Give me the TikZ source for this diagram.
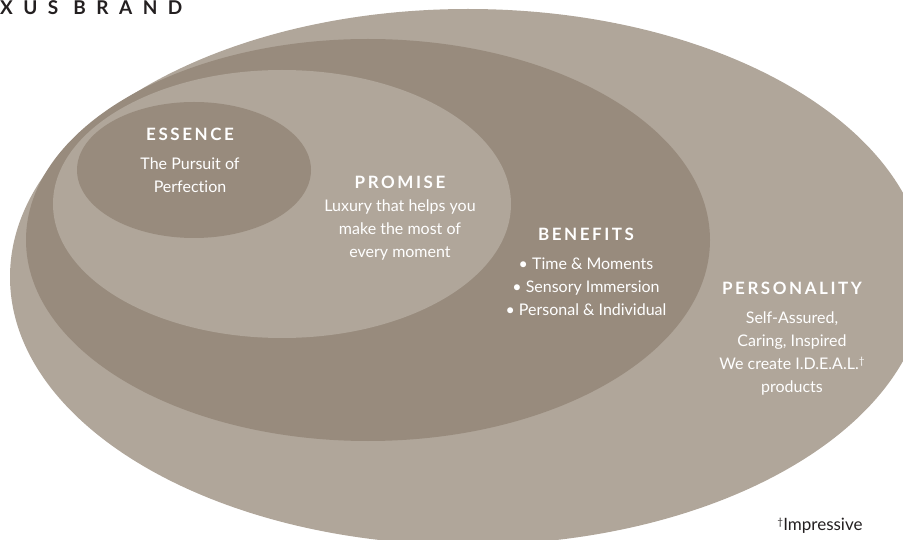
\documentclass[tikz,border=0pt]{standalone}
\usepackage{fontspec}
\setmainfont{Lato}[Ligatures=NoCommon]
\newfontfamily\headfont{Lato}[LetterSpace=15,Ligatures=NoCommon]
\newfontfamily\titlefont{Lato}[LetterSpace=55]
\usetikzlibrary{shapes.geometric,positioning}
\definecolor{sand}{RGB}{176,166,154}
\definecolor{taupe}{RGB}{152,139,125}
\definecolor{ink}{RGB}{35,31,32}
\newcommand{\dagr}{{\fontsize{10}{10}\selectfont\raisebox{5pt}{†}}}

\begin{document}
\begin{tikzpicture}[x=1pt, y=1pt,
    ring/.style={ellipse, inner sep=0pt, draw=none},
    head/.style={font=\headfont\bfseries\fontsize{17}{20}\selectfont,
        text=white, inner sep=0pt},
    body/.style={font=\fontsize{16}{23}\selectfont, text=white,
        align=center, inner sep=0pt}]

    \clip (0,0) rectangle (903,-540);

    % the rings, outer one first
    \node[ring, fill=sand, minimum width=916pt, minimum height=536pt] (Pers) at (468,-277) {};
    \node[ring, fill=taupe, minimum width=684pt, minimum height=402pt] (Ben) at (368,-240) {};
    \node[ring, fill=sand, minimum width=458pt, minimum height=268pt] (Prom) at (282,-204) {};
    \node[ring, fill=taupe, minimum width=234pt, minimum height=136pt] (Ess) at (194,-170) {};

    % labels
    \node[head] (EssT) at (190,-134) {ESSENCE};
    \node[body, below=17pt of EssT] (EssB) {The Pursuit of\\Perfection};

    \node[head] (PromT) at (400,-182) {PROMISE};
    \node[body, below=11pt of PromT] (PromB)
        {Luxury that helps you\\make the most of\\every moment};

    \node[head] (BenT) at (586,-234) {BENEFITS};
    \node[body, below=17pt of BenT] (BenB)
        {• Time \& Moments\\• Sensory Immersion\\• Personal \& Individual};

    \node[head] (PersT) at (792,-288) {PERSONALITY};
    \node[body, below=17pt of PersT] (PersB)
        {Self-Assured,\\Caring, Inspired\\We create I.D.E.A.L.\dagr\\products};

    \node[font=\fontsize{17}{20}\selectfont, text=ink, inner sep=0pt] (Foot) at (820,-526) {\dagr Impressive};

    \node[font=\titlefont\bfseries\fontsize{19}{22}\selectfont, text=ink,
        inner sep=0pt, anchor=base west] (Brand) at (0,-15) {XUS BRAND};
\end{tikzpicture}
\end{document}
